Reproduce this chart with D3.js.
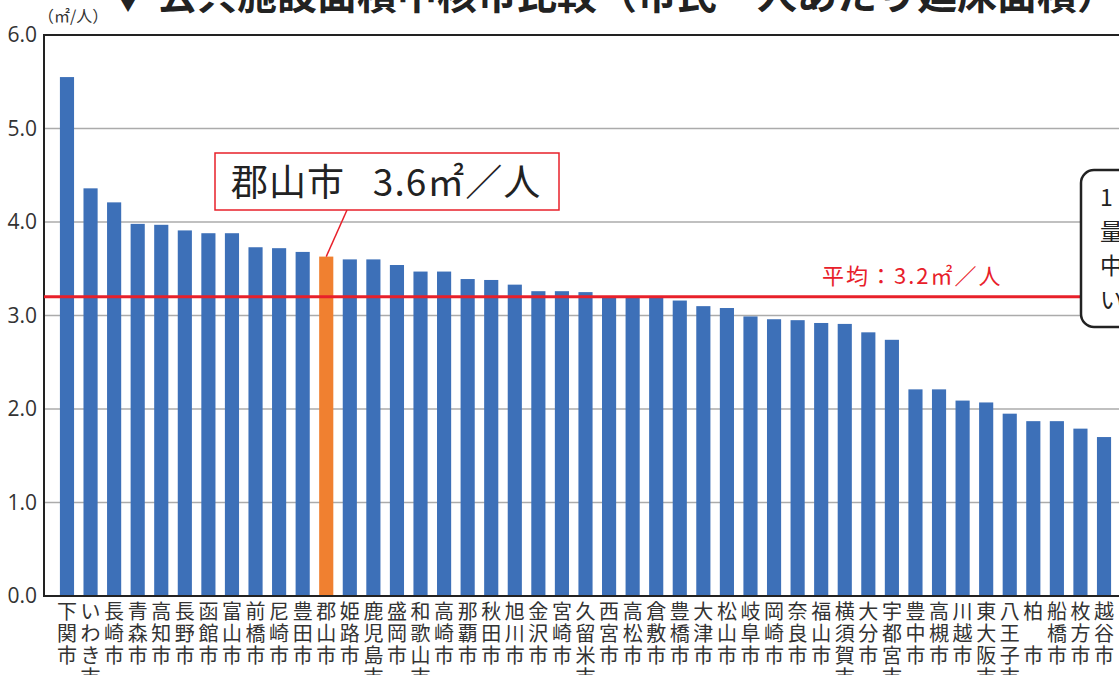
<!DOCTYPE html>
<html>
<head>
<meta charset="utf-8">
<script src="https://cdn.jsdelivr.net/npm/d3@7"></script>
<style>
  body { margin: 0; background: #fff; overflow: hidden; }
  svg { display: block; font-family: "Noto Sans CJK JP", "Noto Sans", sans-serif; }
</style>
</head>
<body>
<svg width="1119" height="675"></svg>
<script>
// cities, sorted by floor area per resident
var cities = ["下関市","いわき市","長崎市","青森市","高知市","長野市","函館市","富山市","前橋市","尼崎市",
  "豊田市","郡山市","姫路市","鹿児島市","盛岡市","和歌山市","高崎市","那覇市","秋田市","旭川市",
  "金沢市","宮崎市","久留米市","西宮市","高松市","倉敷市","豊橋市","大津市","松山市","岐阜市",
  "岡崎市","奈良市","福山市","横須賀市","大分市","宇都宮市","豊中市","高槻市","川越市","東大阪市",
  "八王子市","柏　市","船橋市","枚方市","越谷市"];
var areaPerPerson = [5.55,4.36,4.21,3.98,3.97,3.91,3.88,3.88,3.73,3.72,
  3.68,3.63,3.60,3.60,3.54,3.47,3.47,3.39,3.38,3.33,
  3.26,3.26,3.25,3.20,3.20,3.20,3.16,3.10,3.08,2.99,
  2.96,2.95,2.92,2.91,2.82,2.74,2.21,2.21,2.09,2.07,
  1.95,1.87,1.87,1.79,1.70];
var yTicks = [0, 1, 2, 3, 4, 5, 6];
var average = 3.2;
var highlight = "郡山市";
var sideNote = ["1", "量", "中", "い"];

var svg = d3.select("svg"),
    width = +svg.attr("width"),
    height = +svg.attr("height");

// note: "top" is taken by window.top, so plot edges get their own names
var plotLeft = 44, plotTop = 35, plotBottom = 596;

var x = d3.scaleBand()
    .domain(cities)
    .range([55.2, 1115.8])
    .paddingInner(0.4)
    .paddingOuter(0.2);

var y = d3.scaleLinear()
    .domain([0, 6])
    .range([plotBottom, plotTop]);

// title (top is cut off in the original)
svg.append("text")
    .attr("x", 108)
    .attr("y", 9)
    .attr("font-size", 40)
    .attr("font-weight", "bold")
    .attr("fill", "#222")
    .text("▼ 公共施設面積中核市比較（市民一人あたり延床面積）");

// gridlines
svg.append("g")
  .selectAll("line")
  .data(yTicks.filter(function(d) { return d > 0 && d < 6; }))
  .enter().append("line")
    .attr("x1", plotLeft)
    .attr("x2", width)
    .attr("y1", function(d) { return y(d); })
    .attr("y2", function(d) { return y(d); })
    .attr("stroke", "#ababab")
    .attr("stroke-width", 1.5);

svg.append("line")
    .attr("x1", plotLeft).attr("x2", width)
    .attr("y1", y(6)).attr("y2", y(6))
    .attr("stroke", "#222").attr("stroke-width", 2);

// bars
svg.append("g")
  .selectAll("rect")
  .data(cities)
  .enter().append("rect")
    .attr("x", function(d) { return x(d); })
    .attr("width", x.bandwidth())
    .attr("y", function(d, i) { return y(areaPerPerson[i]); })
    .attr("height", function(d, i) { return y(0) - y(areaPerPerson[i]); })
    .attr("fill", function(d) { return d == highlight ? "#f08030" : "#3d70b8"; });

// y axis
var yAxis = svg.append("g")
    .attr("transform", "translate(" + plotLeft + ",0)")
    .call(d3.axisLeft(y).tickValues(yTicks).tickFormat(d3.format(".1f")).tickSize(0).tickPadding(7));
yAxis.select(".domain").remove();
yAxis.selectAll("text")
    .attr("font-size", 21)
    .attr("fill", "#333")
    .style("font-family", "'Open Sans', 'Noto Sans', sans-serif");

svg.append("line")
    .attr("x1", plotLeft).attr("x2", plotLeft)
    .attr("y1", plotTop - 1).attr("y2", plotBottom + 1)
    .attr("stroke", "#222").attr("stroke-width", 2);
svg.append("line")
    .attr("x1", plotLeft - 1).attr("x2", width)
    .attr("y1", plotBottom).attr("y2", plotBottom)
    .attr("stroke", "#222").attr("stroke-width", 2);

svg.append("text")
    .attr("x", 38)
    .attr("y", 22)
    .attr("font-size", 16)
    .attr("fill", "#333")
    .text("（㎡/人）");

// vertical city labels
var labels = svg.append("g")
  .selectAll("g")
  .data(cities)
  .enter().append("g")
    .attr("transform", function(d) { return "translate(" + (x(d) + x.bandwidth() / 2) + ",0)"; });

labels.selectAll("text")
  .data(function(d) { return d.split(""); })
  .enter().append("text")
    .attr("text-anchor", "middle")
    .attr("y", function(d, i) { return 619 + i * 22; })
    .attr("font-size", 20)
    .attr("fill", "#333")
    .text(function(d) { return d; });

// average line
svg.append("line")
    .attr("x1", plotLeft).attr("x2", 1082)
    .attr("y1", y(average)).attr("y2", y(average))
    .attr("stroke", "#e8202a").attr("stroke-width", 3);

svg.append("text")
    .attr("x", 822)
    .attr("y", 284)
    .attr("font-size", 22)
    .attr("letter-spacing", 2)
    .attr("fill", "#e8202a")
    .text("平均：" + average.toFixed(1) + "㎡／人");

// callout for Koriyama
var hi = cities.indexOf(highlight);
svg.append("line")
    .attr("x1", 347).attr("y1", 210)
    .attr("x2", x(highlight) + x.bandwidth() / 2)
    .attr("y2", y(areaPerPerson[hi]))
    .attr("stroke", "#e8202a").attr("stroke-width", 1.5);

svg.append("rect")
    .attr("x", 215).attr("y", 153)
    .attr("width", 344).attr("height", 57)
    .attr("fill", "#fff")
    .attr("stroke", "#e8202a").attr("stroke-width", 1.5);

svg.append("text")
    .attr("x", 231)
    .attr("y", 196)
    .attr("font-size", 37)
    .attr("letter-spacing", 1)
    .style("white-space", "pre")
    .attr("fill", "#222")
    .text(highlight + "   " + areaPerPerson[hi].toFixed(1) + "㎡／人");

// note box at right edge (cut off)
svg.append("rect")
    .attr("x", 1081).attr("y", 170)
    .attr("width", 80).attr("height", 157)
    .attr("rx", 13)
    .attr("fill", "#fff")
    .attr("stroke", "#222").attr("stroke-width", 2.5);

svg.append("g")
  .selectAll("text")
  .data(sideNote)
  .enter().append("text")
    .attr("x", 1100)
    .attr("y", function(d, i) { return 206 + i * 34; })
    .attr("font-size", 23)
    .attr("fill", "#222")
    .text(function(d) { return d; });
</script>
</body>
</html>
